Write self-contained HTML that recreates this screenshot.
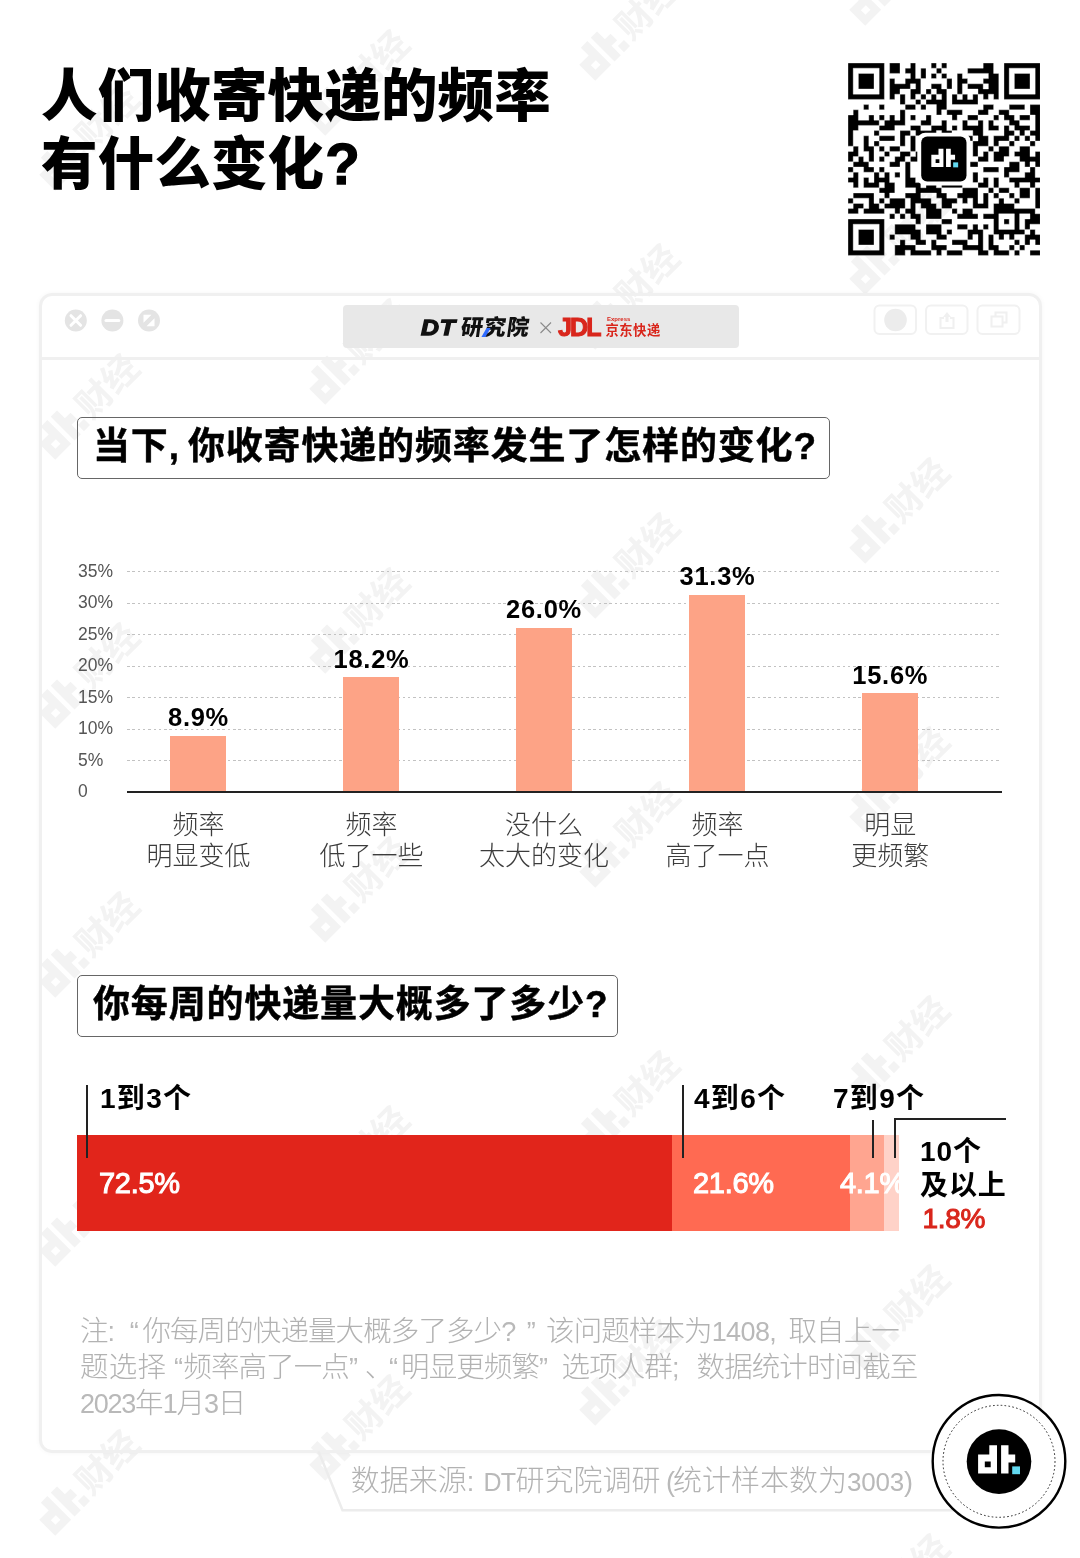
<!DOCTYPE html>
<html lang="zh-CN">
<head>
<meta charset="utf-8">
<title>人们收寄快递的频率有什么变化?</title>
<style>
html,body{margin:0;padding:0;}
body{width:1080px;height:1558px;position:relative;overflow:hidden;background:#fff;
  font-family:"Liberation Sans","Noto Sans CJK SC",sans-serif;color:#000;}
.abs{position:absolute;white-space:nowrap;}
#title{left:41px;top:63px;font-size:56.5px;line-height:68px;font-weight:900;letter-spacing:0.150px;}
#win{left:38.8px;top:293.300px;width:997px;height:1153.700px;border:3px solid #f0f0f0;border-radius:13px;background:transparent;box-shadow:0 0 5px rgba(0,0,0,0.04);}
#winbar{left:41px;top:356.800px;width:998px;height:3px;background:#f0f0f0;}
#tab{left:342.5px;top:305px;width:396px;height:43px;background:#e8e8e8;border-radius:4px;}
.qbox{border:1.5px solid #666;border-radius:5px;background:transparent;box-sizing:border-box;font-weight:700;font-size:37px;letter-spacing:0.85px;-webkit-text-stroke:0.45px #000;}
.ylab{font-size:17.5px;color:#555;font-weight:400;left:78px;line-height:20px;}
.grid{left:126.5px;width:875px;height:1.200px;background:repeating-linear-gradient(90deg,#c2c2c2 0,#c2c2c2 2.500px,transparent 2.500px,transparent 5.300px);}
.bar{background:#fda386;width:56px;margin-left:-0.400px;}
.val{font-size:25.5px;font-weight:700;line-height:28px;text-align:center;width:160px;letter-spacing:0.700px;}
.cat{font-size:26px;font-weight:300;color:#3c3c3c;line-height:31px;text-align:center;width:220px;}
.seg{top:1135px;height:96px;}
.slab{font-size:28px;font-weight:700;line-height:32px;letter-spacing:1.3px;}
.sval{font-size:29px;font-weight:400;line-height:32px;color:#fff;-webkit-text-stroke:1.050px currentColor;letter-spacing:-0.300px;}
.tick{width:1.5px;background:#222;}
.note{font-size:28.5px;font-weight:300;color:#b2b2b2;line-height:36px;left:80px;letter-spacing:-0.900px;}
.lt{font-size:27px;color:#b9b9b9;}
</style>
</head>
<body>
<!-- WATERMARKS -->
<svg id="wm" class="abs" style="left:0;top:0;" width="1080" height="1558" viewBox="0 0 1080 1558" fill="#f3f3f3" font-size="38.5" font-weight="700"><g transform="translate(92.5 1476.0) rotate(-45) scale(0.93)"><path d="M-59.500 -19v0h9.900v36.100h-24.200v-24.200h14.300zM-65.300 1.900v7.100h7.600v-7.100zM-44.400 -19h9.500v11.900h8.600v10h-8.600v14.200h-9.500z" fill-rule="evenodd"/><rect x="-30.200" y="8" width="9.200" height="9.200"/><text x="-17" y="14.500">财经</text></g>
<g transform="translate(92.5 1207.0) rotate(-45) scale(0.93)"><path d="M-59.500 -19v0h9.900v36.100h-24.200v-24.200h14.300zM-65.300 1.900v7.100h7.600v-7.100zM-44.400 -19h9.500v11.900h8.600v10h-8.600v14.200h-9.500z" fill-rule="evenodd"/><rect x="-30.200" y="8" width="9.200" height="9.200"/><text x="-17" y="14.500">财经</text></g>
<g transform="translate(92.5 938.0) rotate(-45) scale(0.93)"><path d="M-59.500 -19v0h9.900v36.100h-24.200v-24.200h14.300zM-65.300 1.900v7.100h7.600v-7.100zM-44.400 -19h9.500v11.900h8.600v10h-8.600v14.200h-9.500z" fill-rule="evenodd"/><rect x="-30.200" y="8" width="9.200" height="9.200"/><text x="-17" y="14.500">财经</text></g>
<g transform="translate(92.5 669.0) rotate(-45) scale(0.93)"><path d="M-59.500 -19v0h9.900v36.100h-24.200v-24.200h14.300zM-65.300 1.900v7.100h7.600v-7.100zM-44.400 -19h9.500v11.900h8.600v10h-8.600v14.200h-9.500z" fill-rule="evenodd"/><rect x="-30.200" y="8" width="9.200" height="9.200"/><text x="-17" y="14.500">财经</text></g>
<g transform="translate(92.5 400.0) rotate(-45) scale(0.93)"><path d="M-59.500 -19v0h9.900v36.100h-24.200v-24.200h14.300zM-65.300 1.900v7.100h7.600v-7.100zM-44.400 -19h9.500v11.900h8.600v10h-8.600v14.200h-9.500z" fill-rule="evenodd"/><rect x="-30.200" y="8" width="9.200" height="9.200"/><text x="-17" y="14.500">财经</text></g>
<g transform="translate(92.5 131.0) rotate(-45) scale(0.93)"><path d="M-59.500 -19v0h9.900v36.100h-24.200v-24.200h14.300zM-65.300 1.900v7.100h7.600v-7.100zM-44.400 -19h9.500v11.900h8.600v10h-8.600v14.200h-9.500z" fill-rule="evenodd"/><rect x="-30.200" y="8" width="9.200" height="9.200"/><text x="-17" y="14.500">财经</text></g>
<g transform="translate(362.5 1421.0) rotate(-45) scale(0.93)"><path d="M-59.500 -19v0h9.900v36.100h-24.200v-24.200h14.300zM-65.300 1.900v7.100h7.600v-7.100zM-44.400 -19h9.500v11.900h8.600v10h-8.600v14.200h-9.500z" fill-rule="evenodd"/><rect x="-30.200" y="8" width="9.200" height="9.200"/><text x="-17" y="14.500">财经</text></g>
<g transform="translate(362.5 1152.0) rotate(-45) scale(0.93)"><path d="M-59.500 -19v0h9.900v36.100h-24.200v-24.200h14.300zM-65.300 1.900v7.100h7.600v-7.100zM-44.400 -19h9.500v11.900h8.600v10h-8.600v14.200h-9.500z" fill-rule="evenodd"/><rect x="-30.200" y="8" width="9.200" height="9.200"/><text x="-17" y="14.500">财经</text></g>
<g transform="translate(362.5 883.0) rotate(-45) scale(0.93)"><path d="M-59.500 -19v0h9.900v36.100h-24.200v-24.200h14.300zM-65.300 1.900v7.100h7.600v-7.100zM-44.400 -19h9.500v11.900h8.600v10h-8.600v14.200h-9.500z" fill-rule="evenodd"/><rect x="-30.200" y="8" width="9.200" height="9.200"/><text x="-17" y="14.500">财经</text></g>
<g transform="translate(362.5 614.0) rotate(-45) scale(0.93)"><path d="M-59.500 -19v0h9.900v36.100h-24.200v-24.200h14.300zM-65.300 1.900v7.100h7.600v-7.100zM-44.400 -19h9.500v11.900h8.600v10h-8.600v14.200h-9.500z" fill-rule="evenodd"/><rect x="-30.200" y="8" width="9.200" height="9.200"/><text x="-17" y="14.500">财经</text></g>
<g transform="translate(362.5 345.0) rotate(-45) scale(0.93)"><path d="M-59.500 -19v0h9.900v36.100h-24.200v-24.200h14.300zM-65.300 1.900v7.100h7.600v-7.100zM-44.400 -19h9.500v11.900h8.600v10h-8.600v14.200h-9.500z" fill-rule="evenodd"/><rect x="-30.200" y="8" width="9.200" height="9.200"/><text x="-17" y="14.500">财经</text></g>
<g transform="translate(362.5 76.0) rotate(-45) scale(0.93)"><path d="M-59.500 -19v0h9.900v36.100h-24.200v-24.200h14.300zM-65.300 1.900v7.100h7.600v-7.100zM-44.400 -19h9.500v11.900h8.600v10h-8.600v14.200h-9.500z" fill-rule="evenodd"/><rect x="-30.200" y="8" width="9.200" height="9.200"/><text x="-17" y="14.500">财经</text></g>
<g transform="translate(632.5 1635.0) rotate(-45) scale(0.93)"><path d="M-59.500 -19v0h9.900v36.100h-24.200v-24.200h14.300zM-65.300 1.900v7.100h7.600v-7.100zM-44.400 -19h9.500v11.900h8.600v10h-8.600v14.200h-9.500z" fill-rule="evenodd"/><rect x="-30.200" y="8" width="9.200" height="9.200"/><text x="-17" y="14.500">财经</text></g>
<g transform="translate(632.5 1366.0) rotate(-45) scale(0.93)"><path d="M-59.500 -19v0h9.900v36.100h-24.200v-24.200h14.300zM-65.300 1.900v7.100h7.600v-7.100zM-44.400 -19h9.500v11.900h8.600v10h-8.600v14.200h-9.500z" fill-rule="evenodd"/><rect x="-30.200" y="8" width="9.200" height="9.200"/><text x="-17" y="14.500">财经</text></g>
<g transform="translate(632.5 1097.0) rotate(-45) scale(0.93)"><path d="M-59.500 -19v0h9.900v36.100h-24.200v-24.200h14.300zM-65.300 1.900v7.100h7.600v-7.100zM-44.400 -19h9.500v11.900h8.600v10h-8.600v14.200h-9.500z" fill-rule="evenodd"/><rect x="-30.200" y="8" width="9.200" height="9.200"/><text x="-17" y="14.500">财经</text></g>
<g transform="translate(632.5 828.0) rotate(-45) scale(0.93)"><path d="M-59.500 -19v0h9.900v36.100h-24.200v-24.200h14.300zM-65.300 1.900v7.100h7.600v-7.100zM-44.400 -19h9.500v11.900h8.600v10h-8.600v14.200h-9.500z" fill-rule="evenodd"/><rect x="-30.200" y="8" width="9.200" height="9.200"/><text x="-17" y="14.500">财经</text></g>
<g transform="translate(632.5 559.0) rotate(-45) scale(0.93)"><path d="M-59.500 -19v0h9.900v36.100h-24.200v-24.200h14.300zM-65.300 1.900v7.100h7.600v-7.100zM-44.400 -19h9.500v11.900h8.600v10h-8.600v14.200h-9.500z" fill-rule="evenodd"/><rect x="-30.200" y="8" width="9.200" height="9.200"/><text x="-17" y="14.500">财经</text></g>
<g transform="translate(632.5 290.0) rotate(-45) scale(0.93)"><path d="M-59.500 -19v0h9.900v36.100h-24.200v-24.200h14.300zM-65.300 1.900v7.100h7.600v-7.100zM-44.400 -19h9.500v11.900h8.600v10h-8.600v14.200h-9.500z" fill-rule="evenodd"/><rect x="-30.200" y="8" width="9.200" height="9.200"/><text x="-17" y="14.500">财经</text></g>
<g transform="translate(632.5 21.0) rotate(-45) scale(0.93)"><path d="M-59.500 -19v0h9.900v36.100h-24.200v-24.200h14.300zM-65.300 1.900v7.100h7.600v-7.100zM-44.400 -19h9.500v11.900h8.600v10h-8.600v14.200h-9.500z" fill-rule="evenodd"/><rect x="-30.200" y="8" width="9.200" height="9.200"/><text x="-17" y="14.500">财经</text></g>
<g transform="translate(902.5 1580.0) rotate(-45) scale(0.93)"><path d="M-59.500 -19v0h9.900v36.100h-24.200v-24.200h14.300zM-65.300 1.900v7.100h7.600v-7.100zM-44.400 -19h9.500v11.900h8.600v10h-8.600v14.200h-9.500z" fill-rule="evenodd"/><rect x="-30.200" y="8" width="9.200" height="9.200"/><text x="-17" y="14.500">财经</text></g>
<g transform="translate(902.5 1311.0) rotate(-45) scale(0.93)"><path d="M-59.500 -19v0h9.900v36.100h-24.200v-24.200h14.300zM-65.300 1.900v7.100h7.600v-7.100zM-44.400 -19h9.500v11.900h8.600v10h-8.600v14.200h-9.500z" fill-rule="evenodd"/><rect x="-30.200" y="8" width="9.200" height="9.200"/><text x="-17" y="14.500">财经</text></g>
<g transform="translate(902.5 1042.0) rotate(-45) scale(0.93)"><path d="M-59.500 -19v0h9.900v36.100h-24.200v-24.200h14.300zM-65.300 1.900v7.100h7.600v-7.100zM-44.400 -19h9.500v11.900h8.600v10h-8.600v14.200h-9.500z" fill-rule="evenodd"/><rect x="-30.200" y="8" width="9.200" height="9.200"/><text x="-17" y="14.500">财经</text></g>
<g transform="translate(902.5 773.0) rotate(-45) scale(0.93)"><path d="M-59.500 -19v0h9.900v36.100h-24.200v-24.200h14.300zM-65.300 1.900v7.100h7.600v-7.100zM-44.400 -19h9.500v11.900h8.600v10h-8.600v14.200h-9.500z" fill-rule="evenodd"/><rect x="-30.200" y="8" width="9.200" height="9.200"/><text x="-17" y="14.500">财经</text></g>
<g transform="translate(902.5 504.0) rotate(-45) scale(0.93)"><path d="M-59.500 -19v0h9.900v36.100h-24.200v-24.200h14.300zM-65.300 1.900v7.100h7.600v-7.100zM-44.400 -19h9.500v11.900h8.600v10h-8.600v14.200h-9.500z" fill-rule="evenodd"/><rect x="-30.200" y="8" width="9.200" height="9.200"/><text x="-17" y="14.500">财经</text></g>
<g transform="translate(902.5 235.0) rotate(-45) scale(0.93)"><path d="M-59.500 -19v0h9.900v36.100h-24.200v-24.200h14.300zM-65.300 1.900v7.100h7.600v-7.100zM-44.400 -19h9.500v11.900h8.600v10h-8.600v14.200h-9.500z" fill-rule="evenodd"/><rect x="-30.200" y="8" width="9.200" height="9.200"/><text x="-17" y="14.500">财经</text></g>
<g transform="translate(902.5 -34.0) rotate(-45) scale(0.93)"><path d="M-59.500 -19v0h9.900v36.100h-24.200v-24.200h14.300zM-65.300 1.900v7.100h7.600v-7.100zM-44.400 -19h9.500v11.900h8.600v10h-8.600v14.200h-9.500z" fill-rule="evenodd"/><rect x="-30.200" y="8" width="9.200" height="9.200"/><text x="-17" y="14.500">财经</text></g></svg>

<div id="title" class="abs">人们收寄快递的频率<br>有什么变化<span style="-webkit-text-stroke:1.400px #000;letter-spacing:0;margin-left:1px">?</span></div>

<!-- QR -->
<svg id="qr" class="abs" style="left:847.8px;top:63.2px;" width="192.4" height="192.4" viewBox="0 0 37 37"><path d="M0 0h7v1h-7zM8 0h2v1h-2zM12 0h1v1h-1zM16 0h1v1h-1zM18 0h1v1h-1zM26 0h2v1h-2zM30 0h7v1h-7zM0 1h1v1h-1zM6 1h1v1h-1zM8 1h2v1h-2zM11 1h2v1h-2zM14 1h1v1h-1zM17 1h1v1h-1zM23 1h5v1h-5zM30 1h1v1h-1zM36 1h1v1h-1zM0 2h1v1h-1zM2 2h3v1h-3zM6 2h1v1h-1zM12 2h1v1h-1zM14 2h1v1h-1zM16 2h1v1h-1zM18 2h1v1h-1zM21 2h1v1h-1zM27 2h2v1h-2zM30 2h1v1h-1zM32 2h3v1h-3zM36 2h1v1h-1zM0 3h1v1h-1zM2 3h3v1h-3zM6 3h1v1h-1zM8 3h1v1h-1zM11 3h3v1h-3zM19 3h1v1h-1zM21 3h2v1h-2zM26 3h3v1h-3zM30 3h1v1h-1zM32 3h3v1h-3zM36 3h1v1h-1zM0 4h1v1h-1zM2 4h3v1h-3zM6 4h1v1h-1zM8 4h4v1h-4zM13 4h1v1h-1zM16 4h2v1h-2zM19 4h1v1h-1zM21 4h1v1h-1zM23 4h3v1h-3zM27 4h2v1h-2zM30 4h1v1h-1zM32 4h3v1h-3zM36 4h1v1h-1zM0 5h1v1h-1zM6 5h1v1h-1zM8 5h2v1h-2zM12 5h2v1h-2zM15 5h1v1h-1zM17 5h2v1h-2zM21 5h1v1h-1zM25 5h4v1h-4zM30 5h1v1h-1zM36 5h1v1h-1zM0 6h7v1h-7zM8 6h1v1h-1zM10 6h1v1h-1zM12 6h1v1h-1zM14 6h1v1h-1zM16 6h1v1h-1zM18 6h1v1h-1zM20 6h1v1h-1zM22 6h1v1h-1zM24 6h1v1h-1zM26 6h1v1h-1zM28 6h1v1h-1zM30 6h7v1h-7zM10 7h1v1h-1zM13 7h1v1h-1zM15 7h4v1h-4zM20 7h5v1h-5zM3 8h1v1h-1zM6 8h1v1h-1zM11 8h2v1h-2zM14 8h1v1h-1zM17 8h2v1h-2zM26 8h2v1h-2zM31 8h3v1h-3zM35 8h2v1h-2zM1 9h1v1h-1zM10 9h1v1h-1zM17 9h1v1h-1zM19 9h3v1h-3zM25 9h2v1h-2zM29 9h2v1h-2zM35 9h2v1h-2zM0 10h2v1h-2zM4 10h1v1h-1zM6 10h1v1h-1zM8 10h1v1h-1zM10 10h1v1h-1zM12 10h1v1h-1zM15 10h1v1h-1zM20 10h1v1h-1zM23 10h2v1h-2zM28 10h1v1h-1zM30 10h2v1h-2zM33 10h2v1h-2zM36 10h1v1h-1zM0 11h6v1h-6zM7 11h4v1h-4zM14 11h2v1h-2zM18 11h1v1h-1zM22 11h1v1h-1zM25 11h1v1h-1zM27 11h1v1h-1zM31 11h2v1h-2zM36 11h1v1h-1zM0 12h2v1h-2zM6 12h3v1h-3zM12 12h2v1h-2zM16 12h3v1h-3zM20 12h1v1h-1zM22 12h4v1h-4zM27 12h2v1h-2zM30 12h1v1h-1zM32 12h3v1h-3zM36 12h1v1h-1zM0 13h1v1h-1zM5 13h1v1h-1zM10 13h2v1h-2zM13 13h4v1h-4zM18 13h2v1h-2zM24 13h2v1h-2zM30 13h2v1h-2zM33 13h1v1h-1zM35 13h2v1h-2zM0 14h1v1h-1zM3 14h1v1h-1zM6 14h3v1h-3zM10 14h1v1h-1zM12 14h1v1h-1zM23 14h1v1h-1zM25 14h2v1h-2zM28 14h3v1h-3zM32 14h1v1h-1zM34 14h1v1h-1zM36 14h1v1h-1zM0 15h1v1h-1zM3 15h1v1h-1zM5 15h1v1h-1zM10 15h1v1h-1zM12 15h1v1h-1zM24 15h3v1h-3zM28 15h1v1h-1zM31 15h1v1h-1zM35 15h1v1h-1zM1 16h1v1h-1zM3 16h2v1h-2zM6 16h1v1h-1zM8 16h2v1h-2zM12 16h1v1h-1zM24 16h1v1h-1zM27 16h1v1h-1zM29 16h2v1h-2zM33 16h2v1h-2zM0 17h2v1h-2zM4 17h1v1h-1zM7 17h1v1h-1zM10 17h2v1h-2zM13 17h1v1h-1zM24 17h1v1h-1zM26 17h1v1h-1zM28 17h3v1h-3zM32 17h3v1h-3zM36 17h1v1h-1zM0 18h1v1h-1zM2 18h1v1h-1zM4 18h1v1h-1zM6 18h1v1h-1zM9 18h2v1h-2zM12 18h2v1h-2zM25 18h2v1h-2zM28 18h2v1h-2zM33 18h4v1h-4zM1 19h3v1h-3zM8 19h2v1h-2zM11 19h1v1h-1zM23 19h2v1h-2zM31 19h2v1h-2zM34 19h1v1h-1zM36 19h1v1h-1zM0 20h1v1h-1zM3 20h2v1h-2zM6 20h1v1h-1zM11 20h1v1h-1zM26 20h3v1h-3zM30 20h3v1h-3zM35 20h1v1h-1zM1 21h1v1h-1zM5 21h1v1h-1zM7 21h1v1h-1zM9 21h1v1h-1zM11 21h1v1h-1zM24 21h1v1h-1zM30 21h1v1h-1zM34 21h2v1h-2zM0 22h2v1h-2zM3 22h1v1h-1zM5 22h3v1h-3zM11 22h2v1h-2zM24 22h1v1h-1zM26 22h1v1h-1zM28 22h1v1h-1zM31 22h6v1h-6zM1 23h1v1h-1zM3 23h3v1h-3zM7 23h2v1h-2zM11 23h3v1h-3zM15 23h2v1h-2zM18 23h4v1h-4zM25 23h2v1h-2zM28 23h1v1h-1zM32 23h1v1h-1zM35 23h1v1h-1zM6 24h3v1h-3zM13 24h5v1h-5zM22 24h3v1h-3zM27 24h1v1h-1zM29 24h2v1h-2zM33 24h2v1h-2zM36 24h1v1h-1zM1 25h4v1h-4zM7 25h1v1h-1zM11 25h3v1h-3zM17 25h2v1h-2zM21 25h4v1h-4zM26 25h1v1h-1zM28 25h1v1h-1zM31 25h1v1h-1zM33 25h2v1h-2zM36 25h1v1h-1zM0 26h1v1h-1zM4 26h1v1h-1zM6 26h1v1h-1zM8 26h3v1h-3zM12 26h4v1h-4zM18 26h3v1h-3zM22 26h1v1h-1zM24 26h1v1h-1zM26 26h1v1h-1zM29 26h1v1h-1zM32 26h1v1h-1zM36 26h1v1h-1zM1 27h2v1h-2zM4 27h2v1h-2zM7 27h4v1h-4zM12 27h1v1h-1zM14 27h3v1h-3zM18 27h2v1h-2zM24 27h3v1h-3zM28 27h4v1h-4zM36 27h1v1h-1zM0 28h2v1h-2zM3 28h4v1h-4zM9 28h1v1h-1zM11 28h2v1h-2zM15 28h3v1h-3zM20 28h1v1h-1zM22 28h2v1h-2zM28 28h8v1h-8zM8 29h1v1h-1zM10 29h1v1h-1zM12 29h2v1h-2zM15 29h3v1h-3zM21 29h4v1h-4zM26 29h3v1h-3zM32 29h1v1h-1zM35 29h2v1h-2zM0 30h7v1h-7zM13 30h1v1h-1zM18 30h2v1h-2zM28 30h1v1h-1zM30 30h1v1h-1zM32 30h1v1h-1zM34 30h3v1h-3zM0 31h1v1h-1zM6 31h1v1h-1zM9 31h4v1h-4zM15 31h3v1h-3zM21 31h2v1h-2zM24 31h1v1h-1zM26 31h1v1h-1zM28 31h1v1h-1zM32 31h1v1h-1zM34 31h1v1h-1zM0 32h1v1h-1zM2 32h3v1h-3zM6 32h1v1h-1zM9 32h5v1h-5zM15 32h3v1h-3zM19 32h1v1h-1zM23 32h3v1h-3zM28 32h6v1h-6zM35 32h1v1h-1zM0 33h1v1h-1zM2 33h3v1h-3zM6 33h1v1h-1zM8 33h1v1h-1zM12 33h2v1h-2zM17 33h2v1h-2zM23 33h1v1h-1zM25 33h1v1h-1zM27 33h1v1h-1zM29 33h1v1h-1zM31 33h1v1h-1zM34 33h3v1h-3zM0 34h1v1h-1zM2 34h3v1h-3zM6 34h1v1h-1zM10 34h1v1h-1zM13 34h2v1h-2zM16 34h1v1h-1zM20 34h3v1h-3zM25 34h1v1h-1zM27 34h1v1h-1zM32 34h1v1h-1zM34 34h1v1h-1zM36 34h1v1h-1zM0 35h1v1h-1zM6 35h1v1h-1zM9 35h4v1h-4zM16 35h3v1h-3zM22 35h4v1h-4zM27 35h2v1h-2zM31 35h1v1h-1zM33 35h1v1h-1zM0 36h7v1h-7zM9 36h2v1h-2zM12 36h4v1h-4zM17 36h1v1h-1zM19 36h3v1h-3zM25 36h2v1h-2zM28 36h3v1h-3zM32 36h1v1h-1zM35 36h2v1h-2z" fill="#000"/><path d="M0 0h7M8 0h2M12 0h1M16 0h1M18 0h1M26 0h2M30 0h7M1 1h5M11 1h1M14 1h1M16 1h3M23 1h3M31 1h5M2 2h3M8 2h2M11 2h1M16 2h3M21 2h1M23 2h4M28 2h1M32 2h3M8 3h1M11 3h1M13 3h2M16 3h1M18 3h2M22 3h1M26 3h1M9 4h2M12 4h1M16 4h2M22 4h5M2 5h3M10 5h3M15 5h2M18 5h2M23 5h2M26 5h1M32 5h3M1 6h5M9 6h2M13 6h5M20 6h3M24 6h2M27 6h1M31 6h5M0 7h7M8 7h1M12 7h4M17 7h1M21 7h1M23 7h1M26 7h1M28 7h1M30 7h7M3 8h1M6 8h1M10 8h7M20 8h5M26 8h2M31 8h3M35 8h2M1 9h1M3 9h1M6 9h1M10 9h3M14 9h1M18 9h4M25 9h1M27 9h1M29 9h5M0 10h1M4 10h1M6 10h1M8 10h1M12 10h1M15 10h1M17 10h1M19 10h1M21 10h1M23 10h4M28 10h2M31 10h1M33 10h3M2 11h2M5 11h3M9 11h1M12 11h1M14 11h1M18 11h1M20 11h1M22 11h4M27 11h2M30 11h1M32 11h3M2 12h5M9 12h2M12 12h6M20 12h1M23 12h2M28 12h1M30 12h2M33 12h2M1 13h1M5 13h4M10 13h3M14 13h2M17 13h1M19 13h2M22 13h2M27 13h2M31 13h2M34 13h2M3 14h1M5 14h4M11 14h6M18 14h2M23 14h2M26 14h1M28 14h2M31 14h5M5 15h4M23 15h2M29 15h4M34 15h3M0 16h2M4 16h3M8 16h3M25 16h7M33 16h3M0 17h1M3 17h1M6 17h8M26 17h3M32 17h1M36 17h1M1 18h2M6 18h2M9 18h1M11 18h2M24 18h2M30 18h1M32 18h1M35 18h1M0 19h2M3 19h2M6 19h1M8 19h1M10 19h4M23 19h4M28 19h2M31 19h3M35 19h1M0 20h3M4 20h1M6 20h1M8 20h2M23 20h2M26 20h3M30 20h1M34 20h3M0 21h2M3 21h5M9 21h1M24 21h1M26 21h3M31 21h2M34 21h1M0 22h1M3 22h1M6 22h1M9 22h1M12 22h1M26 22h1M28 22h1M30 22h4M36 22h1M0 23h1M4 23h1M6 23h1M8 23h1M13 23h1M15 23h2M18 23h4M24 23h2M31 23h1M33 23h2M36 23h1M1 24h1M3 24h4M11 24h2M14 24h1M17 24h14M32 24h5M1 25h4M6 25h1M8 25h1M11 25h2M14 25h3M18 25h1M21 25h1M26 25h6M0 26h4M6 26h6M14 26h2M17 26h1M19 26h3M23 26h1M28 26h2M31 26h4M0 27h3M5 27h3M13 27h1M16 27h1M20 27h1M22 27h1M25 27h1M28 27h1M30 27h3M0 28h1M2 28h2M6 28h3M10 28h2M14 28h1M17 28h4M22 28h5M32 28h5M0 29h2M3 29h4M8 29h4M13 29h1M20 29h2M24 29h1M26 29h2M29 29h3M33 29h2M36 29h1M0 30h7M8 30h1M10 30h1M12 30h1M15 30h5M21 30h4M26 30h2M30 30h1M34 30h1M1 31h5M9 31h5M15 31h5M21 31h2M24 31h1M26 31h1M30 31h1M35 31h2M2 32h3M13 32h1M19 32h1M21 32h3M25 32h2M29 32h3M33 32h3M8 33h4M15 33h2M18 33h2M24 33h1M27 33h2M30 33h1M32 33h3M36 33h1M8 34h1M10 34h1M12 34h1M14 34h1M16 34h3M20 34h4M29 34h1M31 34h2M35 34h1M2 35h3M9 35h1M11 35h4M17 35h2M20 35h2M23 35h2M28 35h1M31 35h4M36 35h1M1 36h5M11 36h1M13 36h4M18 36h7M26 36h2M29 36h5M35 36h2M0 37h7M9 37h2M12 37h4M17 37h1M19 37h3M25 37h2M28 37h3M32 37h1M35 37h2M0 0v7M0 10v6M0 17v2M0 20v1M0 22v1M0 26v1M0 28v1M0 30v7M1 1v5M1 9v1M1 13v4M1 18v4M1 23v1M1 25v3M1 31v5M2 2v3M2 9v2M2 12v1M2 16v3M2 21v3M2 28v1M2 32v3M3 8v1M3 14v3M3 18v1M3 20v1M3 22v2M3 27v2M4 8v1M4 10v1M4 14v2M4 17v3M4 22v1M4 26v2M5 2v3M5 10v1M5 13v1M5 15v4M5 20v3M5 25v2M5 32v3M6 1v5M6 8v1M6 10v7M6 18v1M6 20v2M6 23v2M6 26v2M6 31v5M7 0v7M7 8v1M7 10v2M7 16v3M7 20v2M7 23v1M7 25v4M7 30v7M8 0v2M8 3v4M8 10v1M8 16v2M8 19v1M8 21v2M8 25v2M8 29v1M8 33v1M9 3v1M9 6v1M9 10v1M9 12v1M9 14v1M9 18v1M9 21v1M9 23v2M9 28v2M9 31v3M9 35v2M10 0v2M10 5v3M10 9v2M10 13v5M10 19v1M10 21v1M10 28v2M10 34v1M11 1v1M11 3v1M11 6v6M11 14v2M11 18v6M11 25v5M11 34v1M11 36v1M12 0v1M12 2v1M12 4v3M12 10v1M12 12v10M12 26v2M12 29v1M12 33v1M12 36v1M13 0v3M13 4v1M13 6v3M13 10v1M13 13v5M13 22v1M13 24v1M13 27v2M13 30v2M13 34v2M14 1v8M14 11v2M14 17v2M14 23v1M14 25v1M14 27v1M14 29v2M14 32v2M15 1v2M15 5v4M15 10v1M15 23v1M15 28v2M15 31v2M15 34v1M16 0v1M16 2v1M16 4v3M16 10v3M16 26v1M16 34v3M17 0v3M17 5v2M17 8v2M17 13v1M17 23v1M17 25v1M17 27v1M17 33v2M17 36v1M18 0v3M18 4v1M18 6v1M18 9v1M18 11v1M18 13v1M18 23v2M18 26v7M18 36v1M19 0v1M19 2v8M19 11v2M19 25v1M19 32v2M19 35v2M20 3v2M20 6v2M20 10v1M20 12v2M20 27v2M20 30v1M20 32v1M20 34v1M21 2v5M21 10v1M21 12v1M21 25v2M21 28v2M21 31v1M22 2v1M22 4v3M22 9v1M22 11v2M22 23v2M22 26v1M22 28v1M22 35v2M23 1v1M23 3v2M23 6v1M23 10v2M23 14v1M23 19v1M23 26v1M23 31v4M24 6v1M24 13v5M24 21v2M24 26v3M24 31v1M24 33v1M25 5v3M25 9v3M25 14v1M25 16v4M25 21v6M25 29v1M25 31v1M25 33v2M25 36v1M26 0v1M26 3v2M26 6v1M26 8v1M26 11v3M26 17v1M26 20v1M26 22v1M26 25v2M26 29v1M26 31v5M27 2v1M27 4v1M27 6v1M27 9v1M27 11v2M27 14v5M27 22v6M27 31v1M27 33v4M28 0v2M28 6v1M28 8v1M28 10v2M28 14v5M28 22v4M28 27v2M28 30v5M28 36v1M29 2v5M29 9v2M29 12v1M29 15v2M29 20v1M29 22v5M29 29v3M29 33v1M29 35v1M30 0v7M30 10v1M30 12v2M30 18v1M30 20v2M30 26v1M30 30v1M30 33v1M31 1v5M31 8v2M31 11v2M31 14v4M31 19v1M31 21v2M31 24v2M31 30v1M31 33v1M31 35v2M32 2v3M32 10v1M32 12v4M32 17v1M32 23v1M32 25v3M32 29v3M32 33v4M33 10v2M33 13v2M33 16v1M33 18v3M33 23v4M33 29v3M33 34v3M34 8v1M34 13v2M34 19v1M34 21v1M34 30v6M35 2v3M35 8v3M35 12v6M35 19v2M35 23v3M35 29v1M35 31v2M35 34v1M35 36v1M36 1v5M36 10v3M36 14v2M36 17v1M36 19v3M36 23v6M36 32v1M36 34v1M37 0v7M37 8v7M37 17v3M37 22v1M37 24v4M37 29v2M37 33v2M37 36v1" fill="none" stroke="#fff" stroke-width="0.065" stroke-linecap="butt"/></svg>
<svg class="abs" style="left:910px;top:125px;" width="70" height="70" viewBox="910 125 70 70">
  <rect x="917.300" y="132.700" width="53" height="52.700" rx="8" fill="#fff"/>
  <rect x="921.200" y="136.500" width="45.300" height="45" rx="6" fill="#000"/>
  <g transform="translate(944.700 159.300) scale(0.640) translate(-999 -1461.600)">
    <g fill="#fff">
      <path d="M989.300 1445.300h7.700v28.200h-18.900v-18.900h11.200zM984.800 1461.600v5.600h5.900v-5.600z" fill-rule="evenodd"/>
      <path d="M1001.100 1445.300h7.400v9.300h6.700v7.800h-6.700v11.100h-7.400z"/>
    </g>
    <rect x="1012.200" y="1466.400" width="7.800" height="7.800" fill="#62d9f0"/>
  </g>
</svg>

<!-- window -->
<div id="win" class="abs"></div>
<div id="winbar" class="abs"></div>
<div id="tab" class="abs"></div>
<!-- window controls -->
<svg class="abs" style="left:60px;top:305px;" width="110" height="32" viewBox="60 305 110 32">
  <g fill="#e4e4e4">
    <circle cx="75.8" cy="320.5" r="11"/><circle cx="112.4" cy="320.5" r="11"/><circle cx="149" cy="320.5" r="11"/>
  </g>
  <g stroke="#fff" stroke-width="3" stroke-linecap="round" fill="none">
    <path d="M71 315.7l9.6 9.6M80.6 315.7l-9.6 9.6"/>
    <path d="M106 320.5h12.8"/>
  </g>
  <g fill="#fff">
    <path d="M143.5 314.8h8l-8 8z"/><path d="M154.5 326.2h-8l8-8z"/>
  </g>
</svg>
<svg class="abs" style="left:870px;top:300px;" width="156" height="40" viewBox="870 300 156 40">
  <g fill="#fff" stroke="#f1f1f1" stroke-width="2">
    <rect x="874.5" y="305.5" width="41.5" height="28.5" rx="5"/>
    <rect x="926" y="305.5" width="41.5" height="28.5" rx="5"/>
    <rect x="977.5" y="305.5" width="42" height="28.5" rx="5"/>
  </g>
  <circle cx="895.5" cy="320" r="11.3" fill="#ececec"/>
  <g fill="none" stroke="#f0f0f0" stroke-width="2">
    <path d="M944 318h-3.5v10h13v-10h-3.5"/>
    <rect x="991.5" y="316.5" width="11" height="10"/>
    <path d="M995.5 316v-3.5h11v10h-3.5"/>
  </g>
  <path d="M947 312l-4 5h2.5v5h3v-5h2.500z" fill="#f0f0f0"/>
</svg>
<!-- tab logos -->
<div class="abs" style="left:420.5px;top:313.600px;font-size:22px;line-height:28px;font-weight:700;font-style:italic;color:#111;letter-spacing:0.8px;transform:scaleX(1.13);transform-origin:0 0;-webkit-text-stroke:1.300px #111;">DT</div>
<div class="abs" style="left:461px;top:314px;font-size:22px;line-height:28px;font-weight:900;color:#111;letter-spacing:1px;transform:skewX(-8deg);">研究院</div>
<div class="abs" style="left:484px;top:327.500px;width:4px;height:9px;background:#2f6bff;transform:skewX(-30deg);"></div>
<svg class="abs" style="left:539px;top:321px;" width="14" height="14" viewBox="0 0 14 14"><path d="M1.5 1.5l10.500 10.500M12 1.500l-10.500 10.500" stroke="#8a8a8a" stroke-width="1.100" fill="none"/></svg>
<div class="abs" style="left:558px;top:311.5px;font-size:25px;line-height:30px;font-weight:700;color:#d9261c;letter-spacing:-1.800px;-webkit-text-stroke:1px #d9261c;">JDL</div>
<div class="abs" style="left:607px;top:315.5px;font-size:6px;line-height:7px;font-weight:700;color:#d9261c;">Express</div>
<div class="abs" style="left:605.5px;top:321.500px;font-size:13.300px;line-height:18px;font-weight:700;color:#d9261c;letter-spacing:0.500px;">京东快递</div>

<!-- Q1 -->
<div class="abs qbox" style="left:77px;top:417px;width:753px;height:62px;line-height:58px;padding-left:15px;">当下<span style="letter-spacing:-0.7px">, </span>你收寄快递的频率发生了怎样的变化?</div>

<!-- chart -->
<div class="abs ylab" style="top:560.85px;">35%</div>
<div class="abs ylab" style="top:592.35px;">30%</div>
<div class="abs ylab" style="top:623.85px;">25%</div>
<div class="abs ylab" style="top:655.35px;">20%</div>
<div class="abs ylab" style="top:686.85px;">15%</div>
<div class="abs ylab" style="top:718.35px;">10%</div>
<div class="abs ylab" style="top:749.85px;">5%</div>
<div class="abs ylab" style="top:781.35px;">0</div>
<div class="abs grid" style="top:571.15px;"></div>
<div class="abs grid" style="top:602.65px;"></div>
<div class="abs grid" style="top:634.15px;"></div>
<div class="abs grid" style="top:665.65px;"></div>
<div class="abs grid" style="top:697.15px;"></div>
<div class="abs grid" style="top:728.65px;"></div>
<div class="abs grid" style="top:760.15px;"></div>
<div class="abs bar" style="left:170.75px;top:735.68px;height:56.07px;"></div>
<div class="abs bar" style="left:343.75px;top:677.09px;height:114.66px;"></div>
<div class="abs bar" style="left:516.25px;top:627.95px;height:163.80px;"></div>
<div class="abs bar" style="left:689.75px;top:594.56px;height:197.19px;"></div>
<div class="abs bar" style="left:862.5px;top:693.47px;height:98.28px;"></div>
<div class="abs" style="left:126.5px;top:790.6px;width:875px;height:2.3px;background:#222;"></div>
<div class="abs val" style="left:118.50px;top:703.18px;">8.9%</div>
<div class="abs val" style="left:291.50px;top:644.59px;">18.2%</div>
<div class="abs val" style="left:464.00px;top:595.45px;">26.0%</div>
<div class="abs val" style="left:637.50px;top:562.06px;">31.3%</div>
<div class="abs val" style="left:810.25px;top:660.97px;">15.6%</div>
<div class="abs cat" style="left:88.50px;top:809.5px;">频率<br>明显变低</div>
<div class="abs cat" style="left:261.50px;top:809.5px;">频率<br>低了一些</div>
<div class="abs cat" style="left:434.00px;top:809.5px;">没什么<br>太大的变化</div>
<div class="abs cat" style="left:607.50px;top:809.5px;">频率<br>高了一点</div>
<div class="abs cat" style="left:780.25px;top:809.5px;">明显<br>更频繁</div>

<!-- Q2 -->
<div class="abs qbox" style="left:77px;top:975px;width:541px;height:62px;line-height:58px;padding-left:15px;">你每周的快递量大概多了多少?</div>

<!-- stacked bar -->
<div class="abs seg" style="left:77px;width:596px;background:#e1251b;"></div>
<div class="abs seg" style="left:672px;width:178px;background:#ff6a52;"></div>
<div class="abs seg" style="left:850px;width:34px;background:#ffa590;"></div>
<div class="abs seg" style="left:884px;width:15px;background:#ffd2c8;"></div>

<div class="abs tick" style="left:86px;top:1085px;height:73px;"></div>
<div class="abs tick" style="left:682px;top:1085px;height:73px;"></div>
<div class="abs tick" style="left:872px;top:1120px;height:38px;"></div>
<div class="abs tick" style="left:894px;top:1118px;height:40px;"></div>
<div class="abs" style="left:894px;top:1118px;width:112px;height:1.5px;background:#222;"></div>

<div class="abs slab" style="left:100px;top:1083px;">1到3个</div>
<div class="abs slab" style="left:694px;top:1083px;">4到6个</div>
<div class="abs slab" style="left:833px;top:1083px;">7到9个</div>
<div class="abs slab" style="left:920px;top:1135px;line-height:33.500px;letter-spacing:0.900px;">10个<br>及以上</div>
<div class="abs sval" style="left:99px;top:1167px;">72.5%</div>
<div class="abs sval" style="left:693px;top:1166.500px;">21.6%</div>
<div class="abs sval" style="left:840px;top:1166.500px;">4.1%</div>
<div class="abs sval" style="left:922.500px;top:1202.500px;color:#d9261c;font-size:28px;">1.8%</div>

<!-- note -->
<div class="abs note" id="n1" style="top:1313px;">注<span class="lt" style="letter-spacing:3.600px">: “</span>你每周的快递量大概多了多少<span class="lt" style="letter-spacing:1.450px">? ” </span>该问题样本为<span class="lt" style="letter-spacing:-0.600px">1408</span><span class="lt" style="letter-spacing:2.100px">, </span>取自上一</div>
<div class="abs note" id="n2" style="top:1349px;"><span style="letter-spacing:0.300px">题选择</span><span class="lt" style="letter-spacing:0.200px"> “</span>频率高了一点<span class="lt" style="letter-spacing:-0.350px">” </span>、<span class="lt" style="letter-spacing:3.100px;margin-left:-3.400px">“</span>明显更频繁<span class="lt" style="letter-spacing:3px">” </span>选项人群<span class="lt" style="letter-spacing:4.800px">; </span>数据统计时间截至</div>
<div class="abs note" id="n3" style="top:1385px;"><span class="lt" style="letter-spacing:-1.250px">2023</span>年<span class="lt" style="letter-spacing:-1.250px">1</span>月<span class="lt" style="letter-spacing:-1.250px">3</span>日</div>

<!-- source -->
<svg class="abs" style="left:300px;top:1380px;" width="780" height="178" viewBox="300 1380 780 178">
  <path d="M318.500 1451.200L342.500 1510.200H960" fill="none" stroke="#ececec" stroke-width="2.500" stroke-linejoin="miter"/>
  <circle cx="999" cy="1461.300" r="66.300" fill="#fff" stroke="#000" stroke-width="2.400"/>
  <circle cx="999" cy="1461.300" r="56" fill="none" stroke="#222" stroke-width="1" stroke-dasharray="1.600 2.300"/>
  <circle cx="999" cy="1461.600" r="32.300" fill="#000"/>
  <g fill="#fff">
    <path d="M989.300 1445.300h7.700v28.200h-18.900v-18.900h11.200zM984.800 1461.600v5.600h5.900v-5.600z" fill-rule="evenodd"/>
    <path d="M1001.100 1445.300h7.400v9.300h6.700v7.800h-6.700v11.100h-7.400z"/>
  </g>
  <rect x="1012.200" y="1466.400" width="7.800" height="7.800" fill="#62d9f0"/>
</svg>
<div class="abs note" id="src" style="left:350.700px;top:1463px;font-size:29px;letter-spacing:0;">数据来源<span class="lt" style="letter-spacing:0.850px">: </span><span class="lt" style="font-size:25px;letter-spacing:-0.650px">DT</span>研究院调研<span class="lt" style="letter-spacing:-2px"> (</span>统计样本数为<span class="lt" style="font-size:26px;letter-spacing:-0.200px">3003</span><span class="lt" style="letter-spacing:1px">)</span></div>

</body>
</html>
